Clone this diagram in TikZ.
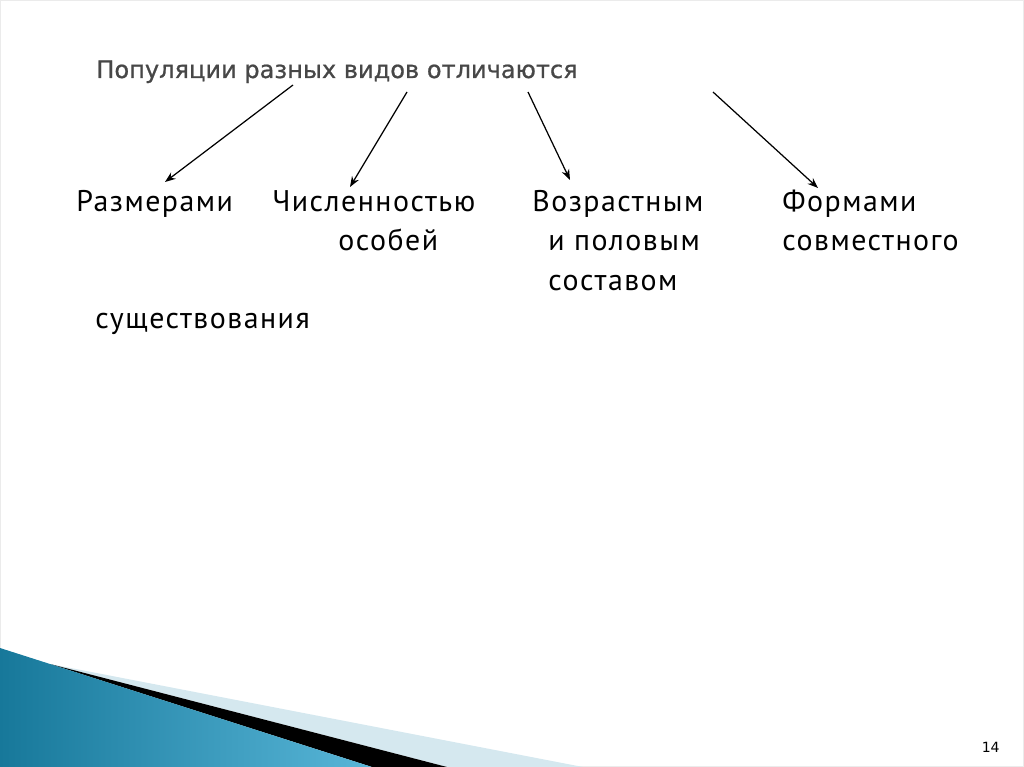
\documentclass[tikz,border=0pt]{standalone}
\usepackage{fontspec}
\setmainfont[LetterSpace=5]{PT Sans}
\newfontfamily\titlefont[FakeBold=0.8]{DejaVu Sans}
\newfontfamily\numfont{DejaVu Sans}
\usetikzlibrary{arrows.meta}
\definecolor{titlegray}{HTML}{474747}
\definecolor{seadark}{HTML}{17789A}
\definecolor{sealight}{HTML}{58B6D8}
\definecolor{palesea}{HTML}{D5E8EF}

\begin{document}
\begin{tikzpicture}[>={Stealth[length=6pt, width=4.5pt]}, x=0.02cm, y=-0.02cm]
    \tikzstyle{w}=[anchor=base west, inner sep=0pt, font=\fontsize{17}{20}\selectfont]

    \useasboundingbox (0,0) rectangle (1024,767);
    \draw[black!8] (0.5,0.5) rectangle (1023.5,766.5);

    % bottom left wedge
    \fill[palesea] (50,664) -- (583,767) -- (447,767) -- cycle;
    \fill[black] (50,664) -- (447,767) -- (372,767) -- cycle;
    \shade[left color=seadark, right color=sealight] (0,648) -- (372,767) -- (0,767) -- cycle;

    \node[anchor=base west, inner sep=0pt, text=titlegray, font=\titlefont\fontsize{13.7}{16}\selectfont] (t) at (96,78) {Популяции разных видов отличаются};

    \node[w] (a) at (76,211) {Размерами};
    \node[w] (b) at (272,211) {Численностью};
    \node[w] (c) at (532,211) {Возрастным};
    \node[w] (d) at (782,211) {Формами};
    \node[w] (b2) at (338,250) {особей};
    \node[w] (c2) at (548,250) {и половым};
    \node[w] (d2) at (782,250) {совместного};
    \node[w] (c3) at (548,290) {составом};
    \node[w] (d3) at (95,328) {существования};

    \coordinate (s1) at (293,85);
    \coordinate (s2) at (407,92);
    \coordinate (s3) at (528,92);
    \coordinate (s4) at (713,92);
    \coordinate (e1) at (165,182);
    \coordinate (e2) at (350,187);
    \coordinate (e3) at (570,180);
    \coordinate (e4) at (818,188);

    \draw[->, line width=0.7pt] (s1) -- (e1);
    \draw[->, line width=0.7pt] (s2) -- (e2);
    \draw[->, line width=0.7pt] (s3) -- (e3);
    \draw[->, line width=0.7pt] (s4) -- (e4);

    \node[anchor=base east, inner sep=0pt, font=\numfont\fontsize{8}{10}\selectfont] (p) at (1000,752) {14};
\end{tikzpicture}
\end{document}
